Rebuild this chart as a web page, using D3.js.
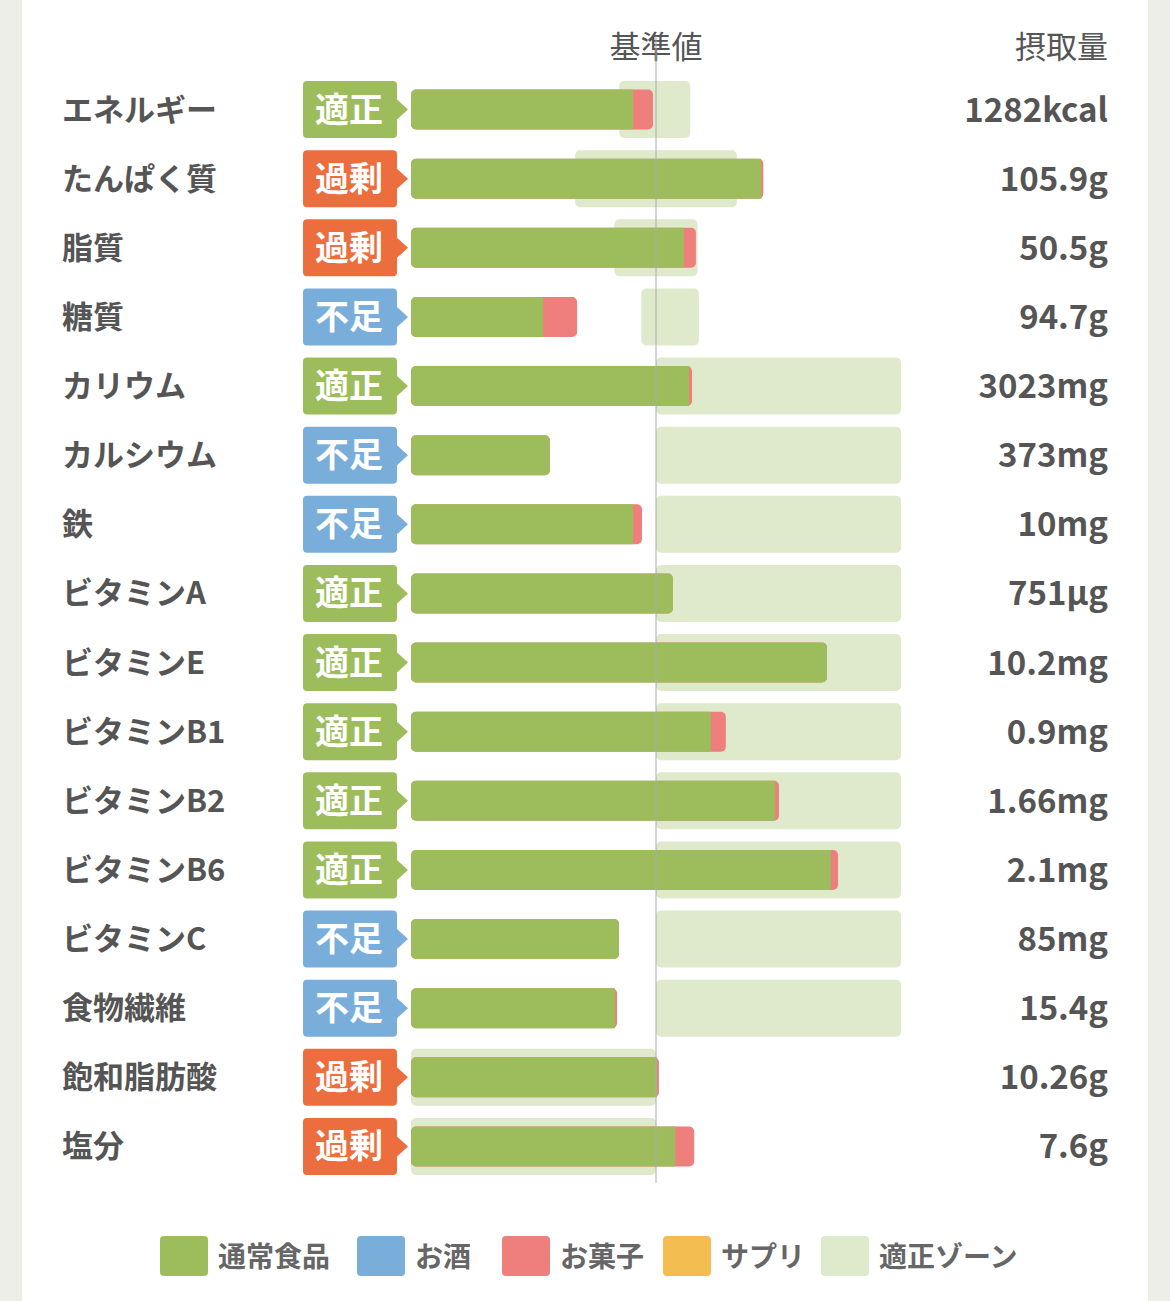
<!DOCTYPE html>
<html><head><meta charset="utf-8">
<script src="https://cdn.jsdelivr.net/npm/d3@7/dist/d3.min.js"></script>
<style>body{margin:0;background:#eeeee8;}svg{display:block;}</style>
</head><body>
<svg id="chart"></svg>
<script>
const nutrients = ["エネルギー","たんぱく質","脂質","糖質","カリウム","カルシウム","鉄","ビタミンA","ビタミンE","ビタミンB1","ビタミンB2","ビタミンB6","ビタミンC","食物繊維","飽和脂肪酸","塩分"];
const status = ["適正","過剰","過剰","不足","適正","不足","不足","適正","適正","適正","適正","適正","不足","不足","過剰","過剰"];
// percent of reference value
const foodPct  = [90.6,143,111.4,53.9,113.5,56.7,90.6,106.9,169.8,122.4,148.6,171.4,84.9,83.3,100.4,107.8];
const snackPct = [8.2,0.8,4.9,13.9,1.2,0,3.7,0,0,6.1,1.6,2.9,0,0.8,0.8,7.8];
const zoneLo = [85,67,83,94,100,100,100,100,100,100,100,100,100,100,0,0];
const zoneHi = [114,133,117,117.5,200,200,200,200,200,200,200,200,200,200,100,100];
const intake = ["1282kcal","105.9g","50.5g","94.7g","3023mg","373mg","10mg","751µg","10.2mg","0.9mg","1.66mg","2.1mg","85mg","15.4g","10.26g","7.6g"];
const legendItems = ["通常食品","お酒","お菓子","サプリ","適正ゾーン"];

const W = 1170, H = 1301;
const col = {food:"#9dbd5c", alcohol:"#79aedb", snack:"#ef7f7c", supp:"#f3bd52", zone:"#dfe9cc"};
const badgeCol = {"適正":"#9dbd5c","過剰":"#ec6d3d","不足":"#79aedb"};
const font = "'Noto Sans CJK JP', sans-serif";

const svg = d3.select("#chart").attr("width", W).attr("height", H);
svg.append("rect").attr("x",22).attr("y",0).attr("width",1126).attr("height",H).attr("fill","#fff");

const x = d3.scaleLinear().domain([0,100]).range([411,656]);
const y = d3.scaleBand().domain(d3.range(nutrients.length)).range([75,1181]).paddingInner(0);
const cy = i => y(i) + y.bandwidth()/2;

svg.append("text").attr("x", x(100)).attr("y", 58).attr("text-anchor","middle")
  .attr("font-family",font).attr("font-size",31).attr("fill","#555").text("基準値");
svg.append("text").attr("x", 1108).attr("y", 58).attr("text-anchor","end")
  .attr("font-family",font).attr("font-size",31).attr("fill","#555").text("摂取量");

const rows = svg.append("g").selectAll("g").data(nutrients).join("g");

// zones
rows.append("rect")
  .attr("x",(d,i)=>x(zoneLo[i])).attr("width",(d,i)=>x(zoneHi[i])-x(zoneLo[i]))
  .attr("y",(d,i)=>cy(i)-28.5).attr("height",57).attr("rx",5).attr("fill",col.zone);

// bars: snack full length underneath, food on top
rows.append("rect")
  .attr("x",x(0)).attr("width",(d,i)=>x(foodPct[i]+snackPct[i])-x(0))
  .attr("y",(d,i)=>cy(i)-20).attr("height",40).attr("rx",5).attr("fill",col.snack);
rows.append("path")
  .attr("d",(d,i)=>{
    const x0=x(0), x1=x(foodPct[i]), t=cy(i)-20, b=cy(i)+20, r=5;
    if (snackPct[i] > 0) return `M${x0+r},${t}H${x1}V${b}H${x0+r}A${r},${r} 0 0 1 ${x0},${b-r}V${t+r}A${r},${r} 0 0 1 ${x0+r},${t}Z`;
    return `M${x0+r},${t}H${x1-r}A${r},${r} 0 0 1 ${x1},${t+r}V${b-r}A${r},${r} 0 0 1 ${x1-r},${b}H${x0+r}A${r},${r} 0 0 1 ${x0},${b-r}V${t+r}A${r},${r} 0 0 1 ${x0+r},${t}Z`;
  }).attr("fill",col.food);

// badges
rows.append("path")
  .attr("d",(d,i)=>{
    const l=303, r=397, t=cy(i)-28.5, b=cy(i)+28.5, m=cy(i), k=4;
    return `M${l+k},${t}H${r-k}Q${r},${t} ${r},${t+k}V${m-10}L${r+11},${m}L${r},${m+10}V${b-k}Q${r},${b} ${r-k},${b}H${l+k}Q${l},${b} ${l},${b-k}V${t+k}Q${l},${t} ${l+k},${t}Z`;
  }).attr("fill",(d,i)=>badgeCol[status[i]]);
rows.append("text").attr("x",349).attr("y",(d,i)=>cy(i)+12).attr("text-anchor","middle")
  .attr("font-family",font).attr("font-size",34).attr("font-weight",700).attr("fill","#fff")
  .text((d,i)=>status[i]);

// labels
rows.append("text").attr("x",62).attr("y",(d,i)=>cy(i)+11)
  .attr("font-family",font).attr("font-size",31).attr("font-weight",700).attr("fill","#555").text(d=>d);
rows.append("text").attr("x",1108).attr("y",(d,i)=>cy(i)+12).attr("text-anchor","end")
  .attr("font-family",font).attr("font-size",33).attr("font-weight",700).attr("fill","#555").text((d,i)=>intake[i]);

// reference line
svg.append("line").attr("x1",x(100)).attr("x2",x(100)).attr("y1",36).attr("y2",1183)
  .attr("stroke","#aaa").attr("stroke-width",1);

// legend
const legendCols = [col.food,col.alcohol,col.snack,col.supp,col.zone];
const legendX = [160,357,502,663,821];
const lg = svg.append("g").selectAll("g").data(legendItems).join("g")
  .attr("transform",(d,i)=>`translate(${legendX[i]},1236)`);
lg.append("rect").attr("width",48).attr("height",40).attr("rx",4).attr("fill",(d,i)=>legendCols[i]);
lg.append("text").attr("x",58).attr("y",31).attr("font-family",font).attr("font-size",28)
  .attr("font-weight",700).attr("fill","#666").text(d=>d);
</script>
</body></html>
